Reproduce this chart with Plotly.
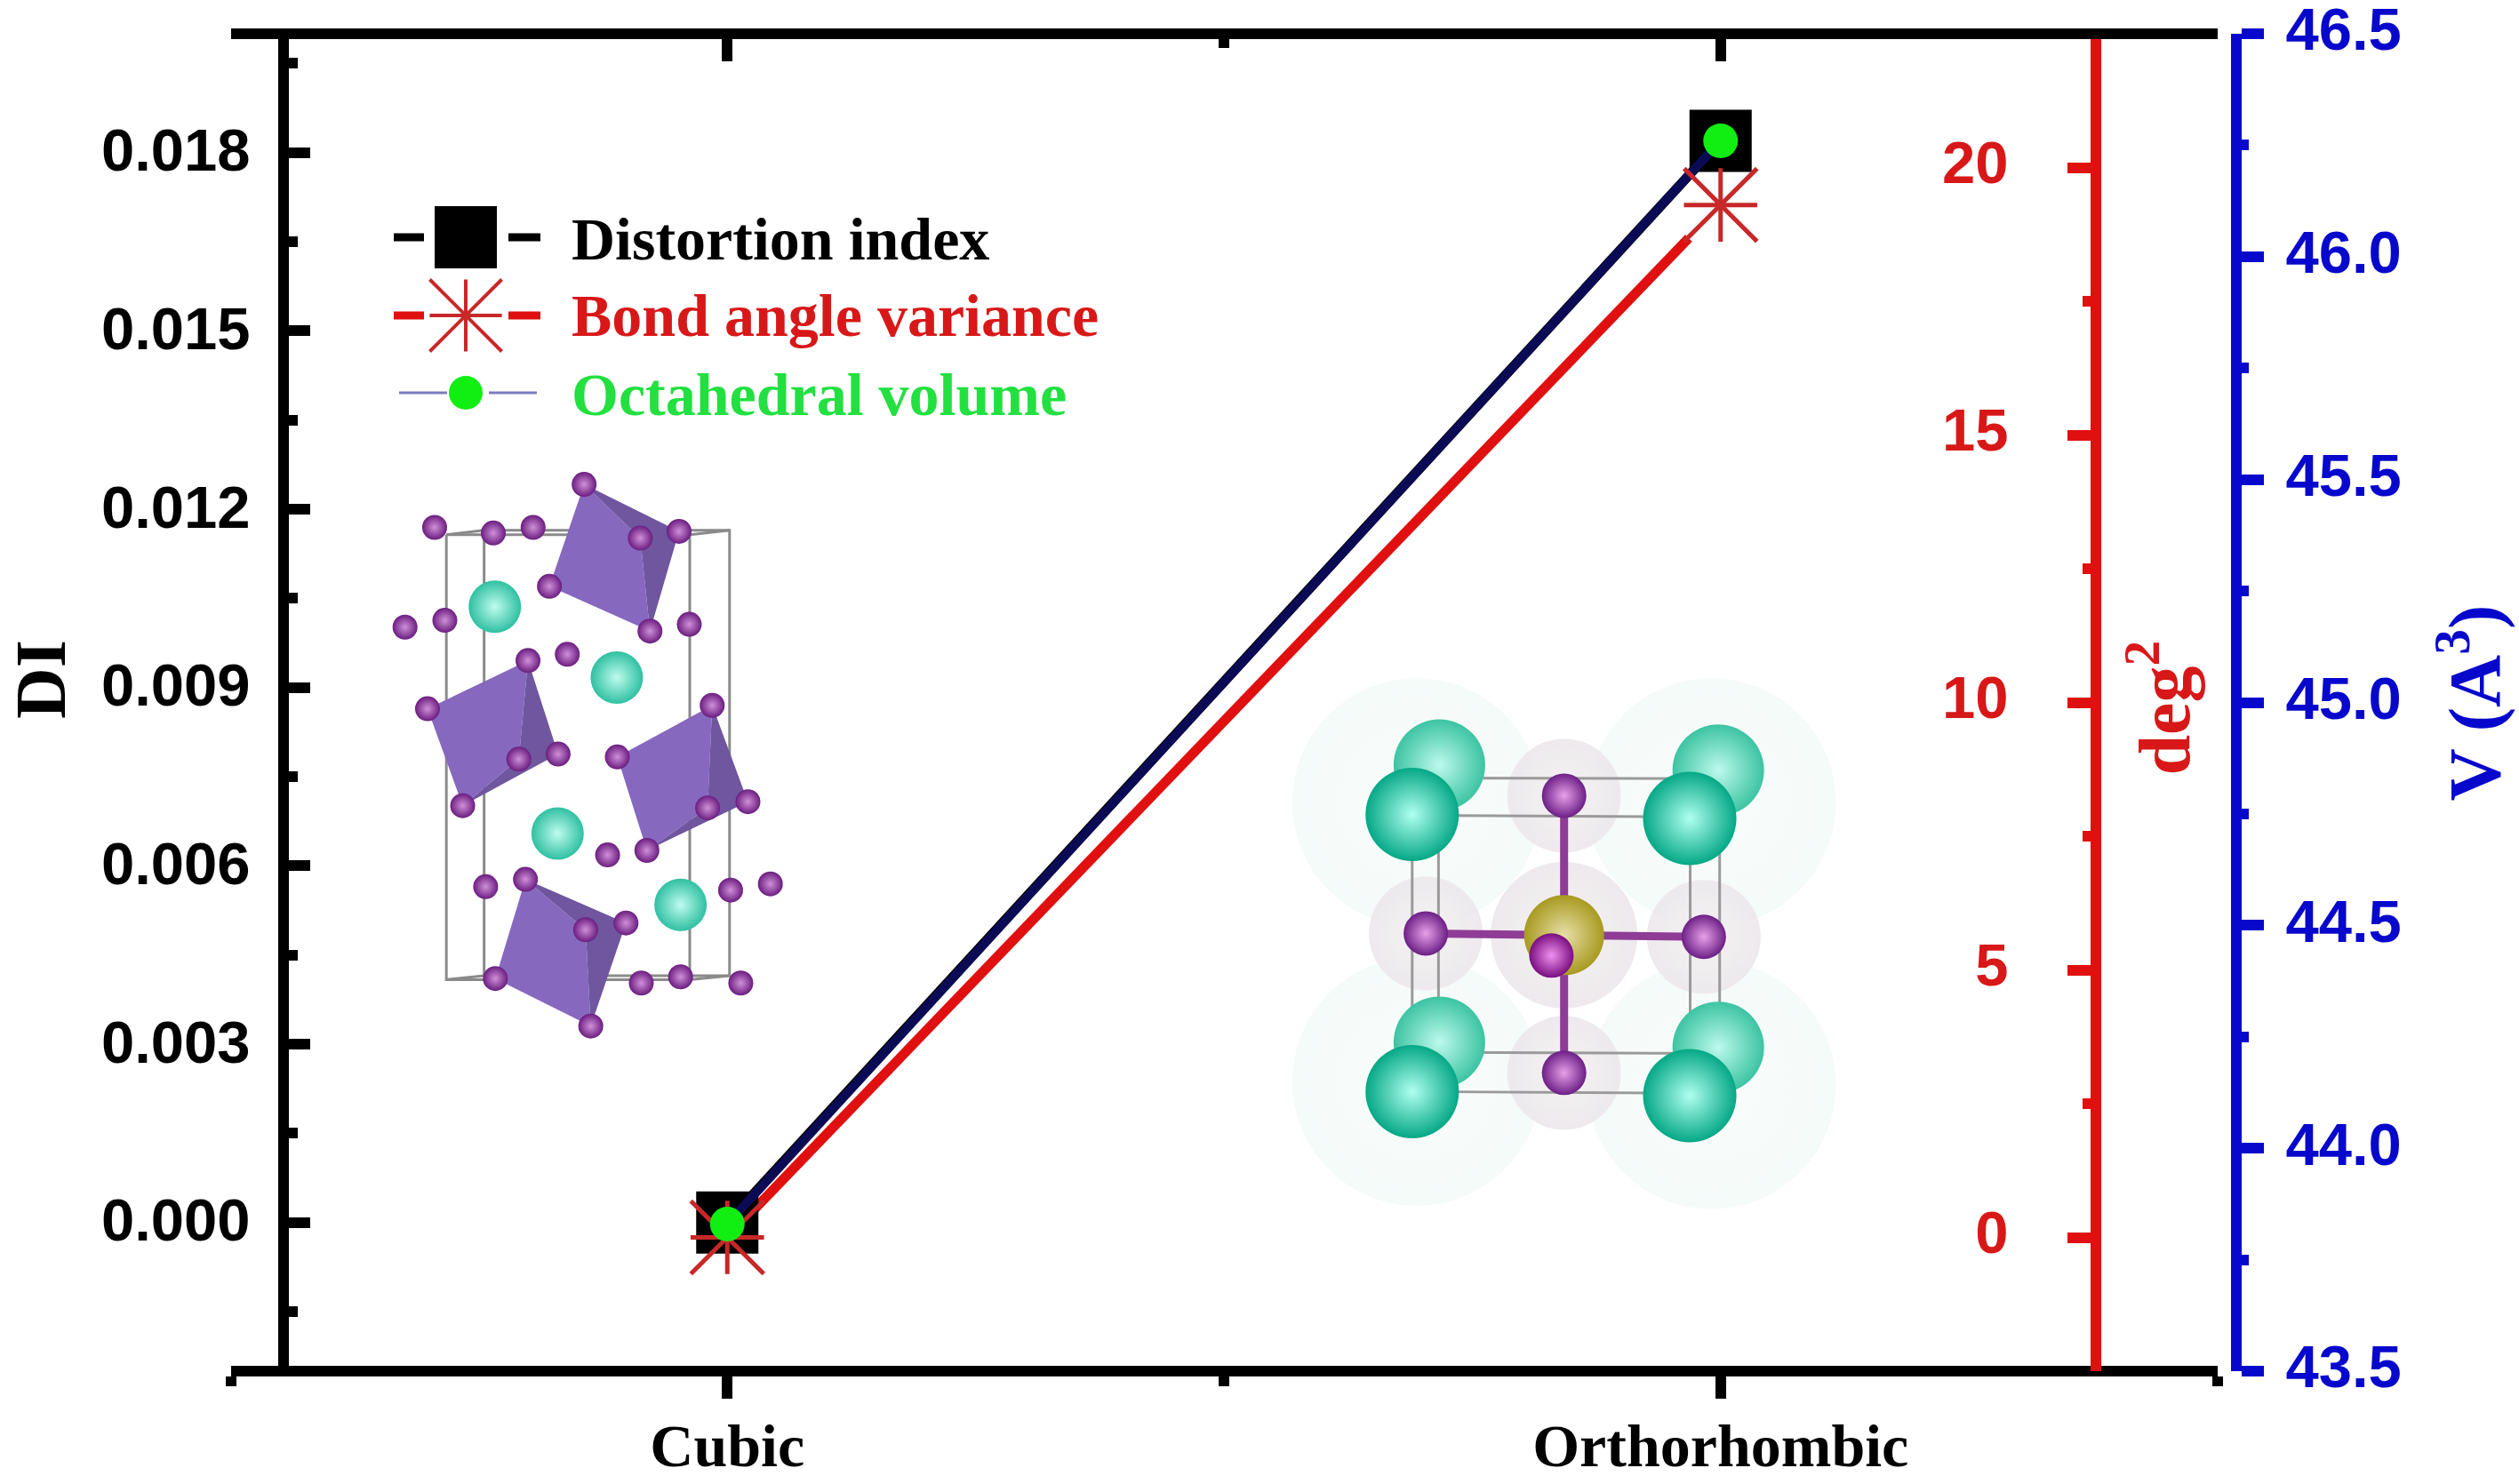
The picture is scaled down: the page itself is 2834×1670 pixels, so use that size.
import plotly.graph_objects as go

W, H = 2834, 1670

# ---- chart values ----
phases = ["Cubic", "Orthorhombic"]
phase_pos = [0, 1]
distortion_index = [0.0, 0.0182]
bond_angle_variance = [0.0, 19.3]
octahedral_volume = [43.83, 46.26]

di_ticks = [0.0, 0.003, 0.006, 0.009, 0.012, 0.015, 0.018]
di_labels = ["0.000", "0.003", "0.006", "0.009", "0.012", "0.015", "0.018"]
bav_ticks = [0, 5, 10, 15, 20]
bav_minor = [2.5, 7.5, 12.5, 17.5]
bav_labels = ["0", "5", "10", "15", "20"]
vol_ticks = [43.5, 44.0, 44.5, 45.0, 45.5, 46.0, 46.5]
vol_labels = ["43.5", "44.0", "44.5", "45.0", "45.5", "46.0", "46.5"]

BAV_RANGE = [-2.5, 22.5]
VOL_RANGE = [43.5, 46.5]

# ---- legend glyph rows, in page pixels ----
legend_x = [524]
legend_names = ["Distortion index", "Bond angle variance", "Octahedral volume"]
legend_y = [267, 355, 442]
legend_text_y = [269, 355, 444]
legend_colors = ["#000000", "#d81818", "#22e040"]

# ---- orthorhombic cell sketch, as crop coordinates of the left inset ----
cell_a = [(178, 630), (655, 630), (655, 1415), (178, 1415), (178, 630), None,
          (252, 622), (733, 622), (733, 1408), (252, 1408), (252, 622), None,
          (178, 630), (252, 622), None, (655, 630), (733, 622), None,
          (178, 1415), (252, 1408), None, (655, 1415), (733, 1408)]
oct_main = [[(448, 541), (558, 636), (577, 800), (380, 721)],
            [(141, 937), (338, 852), (320, 1026), (210, 1108)],
            [(513, 1022), (699, 931), (690, 1112), (571, 1187)],
            [(333, 1238), (451, 1327), (461, 1497), (274, 1413)]]
oct_dark = [[(448, 541), (634, 624), (558, 636)],
            [(558, 636), (634, 624), (577, 800)],
            [(338, 852), (397, 1017), (320, 1026)],
            [(210, 1108), (320, 1026), (397, 1017)],
            [(699, 931), (769, 1101), (690, 1112)],
            [(571, 1187), (690, 1112), (769, 1101)],
            [(333, 1238), (530, 1315), (451, 1327)],
            [(451, 1327), (530, 1315), (461, 1497)]]
teal_a = [(273, 757), (512, 882), (396, 1157), (637, 1283)]
halide_a = [(448, 541), (155, 617), (270, 627), (348, 617), (558, 636), (634, 624),
            (380, 721), (97, 793), (175, 781), (577, 800), (654, 788), (338, 852),
            (415, 841), (699, 931), (141, 937), (320, 1026), (397, 1017), (513, 1022),
            (769, 1101), (690, 1112), (210, 1108), (571, 1187), (494, 1195), (333, 1238),
            (255, 1251), (735, 1257), (813, 1246), (530, 1315), (451, 1327), (274, 1413),
            (560, 1421), (637, 1410), (755, 1421), (461, 1497)]

# ---- cubic cell sketch, as crop coordinates of the right inset ----
cloud_b = [(380, 400), (1030, 400), (380, 1220), (1030, 1230)]
halo_b = [(705, 380), (400, 785), (1013, 795), (705, 1195)]
halo_mid_b = [(705, 790)]
cell_b = [(428, 328), (1048, 330), (1048, 1138), (428, 1135), (428, 328), None,
          (370, 438), (983, 442), (983, 1255), (370, 1250), (370, 438)]
bonds_b = [(705, 380), (705, 1195), None, (400, 785), (1013, 795)]
teal_back_b = [(430, 290), (1045, 305), (430, 1105), (1045, 1120)]
teal_front_b = [(370, 435), (982, 447), (370, 1250), (982, 1262)]
halide_b = [(705, 380), (400, 785), (1013, 795), (705, 1195)]
lead_b = [(705, 790)]
halide_front_b = [(677, 850)]


def crop_a(pts):
    xs, ys = [], []
    for p in pts:
        xs.append(None if p is None else 400 + p[0] / 1.742)
        ys.append(None if p is None else 200 + p[1] / 1.568)
    return xs, ys


def crop_b(pts):
    xs, ys = [], []
    for p in pts:
        xs.append(None if p is None else 1400 + p[0] / 1.96)
        ys.append(None if p is None else 750 + p[1] / 2.613)
    return xs, ys


def polys(groups):
    out = []
    for g in groups:
        out += g + [g[0], None]
    return out


def sketch_line(fig, xy, color, width):
    fig.add_trace(go.Scatter(x=xy[0], y=xy[1], mode="lines", xaxis="x3", yaxis="y7",
                             line=dict(color=color, width=width), hoverinfo="skip"))


def sketch_fill(fig, xy, color):
    fig.add_trace(go.Scatter(x=xy[0], y=xy[1], mode="lines", fill="toself", fillcolor=color,
                             xaxis="x3", yaxis="y7", line=dict(width=0), hoverinfo="skip"))


def sketch_balls(fig, xy, size, edge, center, opacity=1):
    fig.add_trace(go.Scatter(x=xy[0], y=xy[1], mode="markers", xaxis="x3", yaxis="y7",
                             opacity=opacity, hoverinfo="skip",
                             marker=dict(size=size, color=edge, line=dict(width=0),
                                         gradient=dict(type="radial", color=center))))


RED_LINE = "#e01010"
RED_STAR = "#c82828"
RED_TEXT = "#d81818"
BLUE = "#0808cc"
NAVY = "#0b0b55"
GREEN = "#11ee11"

fig = go.Figure()

# inset sketches sit on a page-pixel overlay
sketch_line(fig, crop_a(cell_a), "#8a8a8a", 3)
sketch_fill(fig, crop_a(polys(oct_main)), "#8668bf")
sketch_fill(fig, crop_a(polys(oct_dark)), "#6f569f")
sketch_balls(fig, crop_a(teal_a), 59, "#2fc0a2", "#c0fbee")
sketch_balls(fig, crop_a(halide_a), 28, "#6b1d80", "#d090d8")

sketch_balls(fig, crop_b(cloud_b), 280, "#eaf6f3", "#f3faf8", opacity=0.5)
sketch_balls(fig, crop_b(halo_b), 128, "#ece7ea", "#f5f2f4", opacity=0.9)
sketch_balls(fig, crop_b(halo_mid_b), 165, "#ece7ea", "#f5f2f4", opacity=0.9)
sketch_line(fig, crop_b(cell_b), "#9a9a9a", 3)
sketch_line(fig, crop_b(bonds_b), "#8e3c96", 9)
sketch_balls(fig, crop_b(teal_back_b), 103, "#3cc4a2", "#bdf9ec")
sketch_balls(fig, crop_b(teal_front_b), 105, "#05a886", "#b0fff0")
sketch_balls(fig, crop_b(halide_b), 50, "#6c1f86", "#e8a0e8")
sketch_balls(fig, crop_b(lead_b), 90, "#a89a20", "#e8dfa8")
sketch_balls(fig, crop_b(halide_front_b), 50, "#7a0f80", "#f090f0")

# overlay axes draw in id order, which sets the stacking:
# red line, black line and square, navy line, star, green dot
fig.add_trace(go.Scatter(x=phase_pos, y=bond_angle_variance, mode="lines", xaxis="x", yaxis="y",
                         line=dict(color=RED_LINE, width=11), hoverinfo="skip"))
# white patch keeps the thick line off the star's thin spoke
fig.add_trace(go.Scatter(x=phase_pos[1:], y=bond_angle_variance[1:], mode="markers", xaxis="x", yaxis="y",
                         marker=dict(size=104, color="white", line=dict(width=0)), hoverinfo="skip"))
fig.add_trace(go.Scatter(x=phase_pos, y=distortion_index, mode="lines", xaxis="x", yaxis="y2",
                         line=dict(color="#000000", width=11), hoverinfo="skip"))
fig.add_trace(go.Scatter(x=phase_pos, y=distortion_index, mode="markers", name="Distortion index",
                         xaxis="x", yaxis="y2",
                         marker=dict(symbol="square", size=70, color="#000000", line=dict(width=0))))
fig.add_trace(go.Scatter(x=phase_pos, y=octahedral_volume, mode="lines", xaxis="x", yaxis="y3",
                         line=dict(color=NAVY, width=10), hoverinfo="skip"))
fig.add_trace(go.Scatter(x=phase_pos, y=bond_angle_variance, mode="markers", name="Bond angle variance",
                         xaxis="x", yaxis="y5",
                         marker=dict(symbol="cross-thin-open", size=59, color=RED_STAR,
                                     line=dict(color=RED_STAR, width=5))))
fig.add_trace(go.Scatter(x=phase_pos, y=bond_angle_variance, mode="markers", xaxis="x", yaxis="y5",
                         marker=dict(symbol="x-thin-open", size=82, color=RED_STAR,
                                     line=dict(color=RED_STAR, width=5)),
                         hoverinfo="skip"))
fig.add_trace(go.Scatter(x=phase_pos, y=octahedral_volume, mode="markers", name="Octahedral volume",
                         xaxis="x", yaxis="y6",
                         marker=dict(symbol="circle", size=39, color=GREEN, line=dict(width=0))))

# legend glyphs
for yy, col, wd in [(legend_y[0], "#000000", 9), (legend_y[1], "#e01010", 9)]:
    fig.add_trace(go.Scatter(x=[443, 477, None, 572, 608], y=[yy, yy, None, yy, yy], mode="lines",
                             xaxis="x3", yaxis="y7", line=dict(color=col, width=wd), hoverinfo="skip"))
fig.add_trace(go.Scatter(x=[449, 503, None, 550, 604], y=[legend_y[2]] * 2 + [None] + [legend_y[2]] * 2,
                         mode="lines", xaxis="x3", yaxis="y7", line=dict(color="#7b7bc0", width=3),
                         hoverinfo="skip"))
fig.add_trace(go.Scatter(x=legend_x, y=legend_y[:1], mode="markers", xaxis="x3", yaxis="y7", hoverinfo="skip",
                         marker=dict(symbol="square", size=70, color="#000000", line=dict(width=0))))
fig.add_trace(go.Scatter(x=legend_x, y=legend_y[1:2], mode="markers", xaxis="x3", yaxis="y7", hoverinfo="skip",
                         marker=dict(symbol="cross-thin-open", size=58, color=RED_STAR,
                                     line=dict(color=RED_STAR, width=4))))
fig.add_trace(go.Scatter(x=legend_x, y=legend_y[1:2], mode="markers", xaxis="x3", yaxis="y7", hoverinfo="skip",
                         marker=dict(symbol="x-thin-open", size=81, color=RED_STAR,
                                     line=dict(color=RED_STAR, width=4))))
fig.add_trace(go.Scatter(x=legend_x, y=legend_y[2:], mode="markers", xaxis="x3", yaxis="y7", hoverinfo="skip",
                         marker=dict(symbol="circle", size=38, color=GREEN, line=dict(width=0))))

# keeps the top axis alive
fig.add_trace(go.Scatter(x=[None], y=[None], xaxis="x2", yaxis="y", mode="lines", hoverinfo="skip"))

SANS = dict(family="Liberation Sans", size=67, weight="bold")
SERIF = dict(family="Liberation Serif", size=82, weight="bold")
LW = 12

annotations = []
for name, yy, col in zip(legend_names, legend_text_y, legend_colors):
    annotations.append(dict(text=name, x=641 / W, y=1 - yy / H, xref="paper", yref="paper",
                            xanchor="left", yanchor="middle", showarrow=False,
                            font=dict(family="Liberation Serif", size=68, weight="bold", color=col)))
for text, px, py, col, size in [("DI", 92, 765, "#000000", 80),
                                ("deg<sup>2</sup>", 2482, 797, RED_TEXT, 82),
                                ("V (A<sup>3</sup>)", 2831, 791, BLUE, 82)]:
    annotations.append(dict(text=text, x=px / W, y=1 - py / H, xref="paper", yref="paper",
                            xanchor="right", yanchor="middle",
                            textangle=-90, showarrow=False, font=dict(SERIF, color=col, size=size)))

x_dom = [259.5 / W, 2494.5 / W]
y_dom = [1 - 1543 / H, 1 - 38 / H]

fig.update_layout(
    width=W, height=H, showlegend=False, plot_bgcolor="rgba(0,0,0,0)", paper_bgcolor="white",
    template=None, margin=dict(l=0, r=0, t=0, b=0), annotations=annotations,
    xaxis=dict(domain=x_dom, range=[-0.5, 1.5], anchor="free", position=1 - 1543 / H, side="bottom",
               tickmode="array", tickvals=phase_pos, ticktext=phases, ticks="outside", ticklen=25,
               tickwidth=LW, tickcolor="#000000", showline=True, linewidth=LW, linecolor="#000000",
               showgrid=False, zeroline=False, ticklabelstandoff=-6,
               tickfont=dict(family="Liberation Serif", size=68, weight="bold", color="#000000"),
               minor=dict(tickmode="array", tickvals=[-0.5, 0.5, 1.5], ticks="outside", ticklen=11,
                          tickwidth=LW, tickcolor="#000000", showgrid=False)),
    xaxis2=dict(domain=x_dom, range=[-0.5, 1.5], overlaying="x", anchor="free", position=1 - 38 / H, side="top",
                tickmode="array", tickvals=phase_pos, showticklabels=False, ticks="inside", ticklen=25,
                tickwidth=LW, tickcolor="#000000", showline=True, linewidth=LW, linecolor="#000000",
                showgrid=False, zeroline=False,
                minor=dict(tickmode="array", tickvals=[-0.5, 0.5, 1.5], ticks="inside", ticklen=10,
                           tickwidth=LW, tickcolor="#000000", showgrid=False)),
    yaxis=dict(domain=y_dom, range=BAV_RANGE, anchor="free", position=2358 / W, side="left",
               tickmode="array", tickvals=bav_ticks, ticktext=bav_labels, ticks="outside", ticklen=26,
               tickwidth=LW, tickcolor=RED_LINE, showline=True, linewidth=LW, linecolor=RED_LINE,
               showgrid=False, zeroline=False, ticklabelstandoff=53, ticklabelshift=-6,
               tickfont=dict(SANS, color=RED_TEXT),
               minor=dict(tickmode="array", tickvals=bav_minor, ticks="outside", ticklen=9, tickwidth=LW,
                          tickcolor=RED_LINE, showgrid=False)),
    yaxis2=dict(domain=y_dom, range=[-0.0025, 0.02], overlaying="y", anchor="free", position=319 / W, side="left",
                tickmode="array", tickvals=di_ticks, ticktext=di_labels, ticks="inside", ticklen=24,
                tickwidth=LW, tickcolor="#000000", showline=True, linewidth=LW, linecolor="#000000",
                showgrid=False, zeroline=False, ticklabelstandoff=18, ticklabelshift=-3,
                tickfont=dict(SANS, color="#000000"),
                minor=dict(dtick=0.003, tick0=0.0015, ticks="inside", ticklen=10, tickwidth=LW,
                           tickcolor="#000000", showgrid=False)),
    yaxis3=dict(domain=y_dom, range=VOL_RANGE, overlaying="y", anchor="free", position=2516 / W, side="right",
                tickmode="array", tickvals=vol_ticks, ticktext=vol_labels, ticks="outside", ticklen=25,
                tickwidth=LW, tickcolor=BLUE, showline=True, linewidth=LW, linecolor=BLUE,
                showgrid=False, zeroline=False, ticklabelstandoff=11, ticklabelshift=-5,
                ticklabeloverflow="allow",
                tickfont=dict(SANS, color=BLUE),
                minor=dict(dtick=0.5, tick0=43.75, ticks="outside", ticklen=8, tickwidth=LW,
                           tickcolor=BLUE, showgrid=False)),
    yaxis5=dict(domain=y_dom, range=BAV_RANGE, overlaying="y", anchor="x", visible=False, showgrid=False),
    yaxis6=dict(domain=y_dom, range=VOL_RANGE, overlaying="y", anchor="x", visible=False, showgrid=False),
    xaxis3=dict(domain=[0, 1], range=[0, W], anchor="y7", visible=False, showgrid=False),
    yaxis7=dict(domain=[0, 1], range=[H, 0], anchor="x3", visible=False, showgrid=False),
)

fig.write_html("out.html", config=dict(displayModeBar=False), post_script="document.body.style.margin='0';")
